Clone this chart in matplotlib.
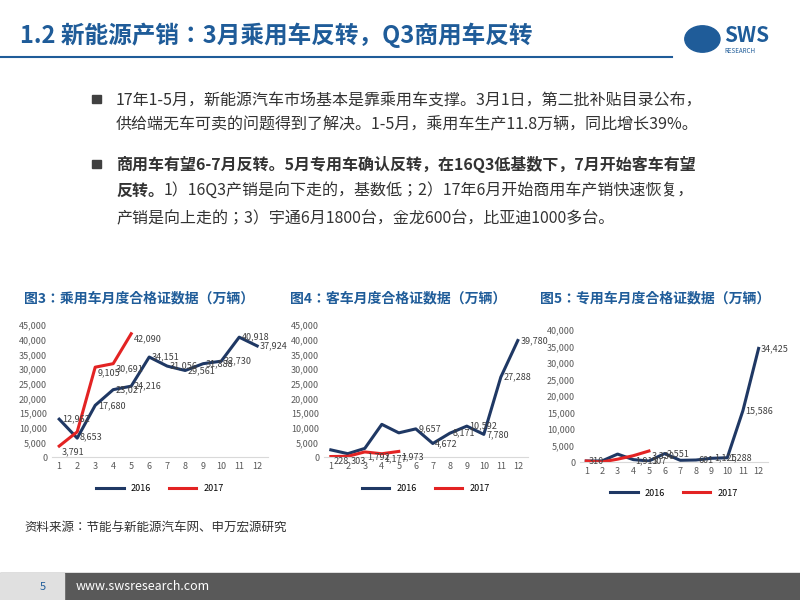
import numpy as np
import matplotlib.pyplot as plt
import matplotlib.patches as patches
from matplotlib import font_manager
from matplotlib.ticker import FuncFormatter

names = set(f.name for f in font_manager.fontManager.ttflist)
cjk = [n for n in ['Noto Sans CJK SC', 'Noto Sans CJK JP', 'Noto Sans CJK TC', 'Noto Sans SC'] if n in names]
plt.rcParams['font.family'] = 'sans-serif'
plt.rcParams['font.sans-serif'] = cjk + ['DejaVu Sans']

months = list(range(1, 13))
months17 = list(range(1, 6))

# 图3 乘用车
car16 = [12962, 6500, 17680, 23027, 24216, 34151, 31056, 29561, 31888, 32730, 40918, 37924]
car17 = [3791, 8653, 30691, 31886, 42090]
car16_lbl = ['12,962', '', '17,680', '23,027', '24,216', '34,151', '31,056', '29,561', '31,888', '32,730', '40,918', '37,924']
car17_lbl = ['3,791', '8,653', '9,105', '30,691', '42,090']

# 图4 客车
bus16 = [2500, 1200, 3000, 11200, 8300, 9657, 4672, 8171, 10592, 7780, 27288, 39780]
bus17 = [228, 303, 1792, 1177, 1973]
bus16_lbl = ['', '', '', '', '', '9,657', '4,672', '8,171', '10,592', '7,780', '27,288', '39,780']
bus17_lbl = ['228', '303', '1,792', '1,177', '1,973']

# 图5 专用车
spec16 = [300, 310, 2400, 721, 300, 2551, 507, 601, 1125, 1288, 15586, 34425]
spec17 = [300, 0, 855, 1911, 3330]
spec16_lbl = ['310', '', '', '', '507', '2,551', '', '601', '1,125', '1,288', '15,586', '34,425']
spec17_lbl = ['', '', '', '1,911', '3,330']

navy = '#1f3864'
red = '#e32323'
blue = '#1f5c99'

fig = plt.figure(figsize=(8, 6), dpi=100)

# title
fig.text(0.025, 0.942, '1.2 新能源产销：3月乘用车反转，Q3商用车反转', fontsize=17,
         color=blue, fontweight='bold', va='center')
fig.add_artist(plt.Line2D([0, 0.84], [0.905, 0.905], color=blue, lw=1.5))
fig.text(0.905, 0.94, 'SWS', fontsize=15, color=blue, fontweight='bold', va='center')
fig.text(0.905, 0.915, 'RESEARCH', fontsize=4.5, color=blue, va='center')
fig.add_artist(patches.Circle((0.878, 0.935), 0.022, color=blue, transform=fig.transFigure))

# bullets
fig.add_artist(patches.Rectangle((0.115, 0.828), 0.011, 0.014, color='#404040', transform=fig.transFigure))
fig.text(0.145, 0.845, '17年1-5月，新能源汽车市场基本是靠乘用车支撑。3月1日，第二批补贴目录公布，\n供给端无车可卖的问题得到了解决。1-5月，乘用车生产11.8万辆，同比增长39%。',
         fontsize=11.5, color='#333333', va='top', linespacing=1.45)
fig.add_artist(patches.Rectangle((0.115, 0.72), 0.011, 0.014, color='#404040', transform=fig.transFigure))
fig.text(0.145, 0.74, '商用车有望6-7月反转。5月专用车确认反转，在16Q3低基数下，7月开始客车有望',
         fontsize=11.5, color='#333333', va='top', fontweight='bold')
fig.text(0.145, 0.695, '反转。', fontsize=11.5, color='#333333', va='top', fontweight='bold')
fig.text(0.205, 0.695, '1）16Q3产销是向下走的，基数低；2）17年6月开始商用车产销快速恢复，',
         fontsize=11.5, color='#333333', va='top')
fig.text(0.145, 0.65, '产销是向上走的；3）宇通6月1800台，金龙600台，比亚迪1000多台。',
         fontsize=11.5, color='#333333', va='top')

# chart titles
fig.text(0.03, 0.502, '图3：乘用车月度合格证数据（万辆）', fontsize=10, color=blue, fontweight='bold', va='center')
fig.text(0.363, 0.502, '图4：客车月度合格证数据（万辆）', fontsize=10, color=blue, fontweight='bold', va='center')
fig.text(0.675, 0.502, '图5：专用车月度合格证数据（万辆）', fontsize=10, color=blue, fontweight='bold', va='center')

fmt = FuncFormatter(lambda v, p: '{:,.0f}'.format(v))

def draw(rect, d16, d17, l16, l17, ymax):
    ax = fig.add_axes(rect)
    ax.plot(months, d16, color=navy, lw=2.2, label='2016')
    ax.plot(months17, d17, color=red, lw=2.2, label='2017')
    for x, y, s in zip(months, d16, l16):
        if s:
            ax.text(x + 0.15, y, s, fontsize=6.5, color='#404040', va='center')
    for x, y, s in zip(months17, d17, l17):
        if s:
            ax.text(x + 0.15, y - ymax * 0.04, s, fontsize=6.5, color='#404040', va='center')
    ax.set_ylim(0, ymax)
    ax.set_yticks(np.arange(0, ymax + 1, 5000))
    ax.yaxis.set_major_formatter(fmt)
    ax.set_xticks(months)
    ax.set_xlim(0.6, 12.6)
    ax.tick_params(labelsize=6.5, colors='#595959', length=0)
    for s in ['top', 'right', 'left']:
        ax.spines[s].set_visible(False)
    ax.spines['bottom'].set_color('#d9d9d9')
    ax.legend(loc='upper center', bbox_to_anchor=(0.5, -0.14), ncol=2, frameon=False,
              fontsize=6.5, handlelength=3)
    return ax

draw([0.065, 0.238, 0.27, 0.22], car16, car17, car16_lbl, car17_lbl, 45000)
draw([0.405, 0.238, 0.255, 0.22], bus16, bus17, bus16_lbl, bus17_lbl, 45000)
draw([0.725, 0.23, 0.235, 0.22], spec16, spec17, spec16_lbl, spec17_lbl, 40000)

fig.text(0.03, 0.12, '资料来源：节能与新能源汽车网、申万宏源研究', fontsize=9, color='#333333', va='center')

# footer
fig.add_artist(patches.Rectangle((0, 0), 1, 0.045, color='#595959', transform=fig.transFigure))
fig.add_artist(patches.Rectangle((0, 0), 0.08, 0.045, color='#e0e0e0', transform=fig.transFigure))
fig.text(0.05, 0.022, '5', fontsize=8, color=blue, va='center')
fig.text(0.095, 0.022, 'www.swsresearch.com', fontsize=9, color='white', va='center')

fig.savefig('out.png')
